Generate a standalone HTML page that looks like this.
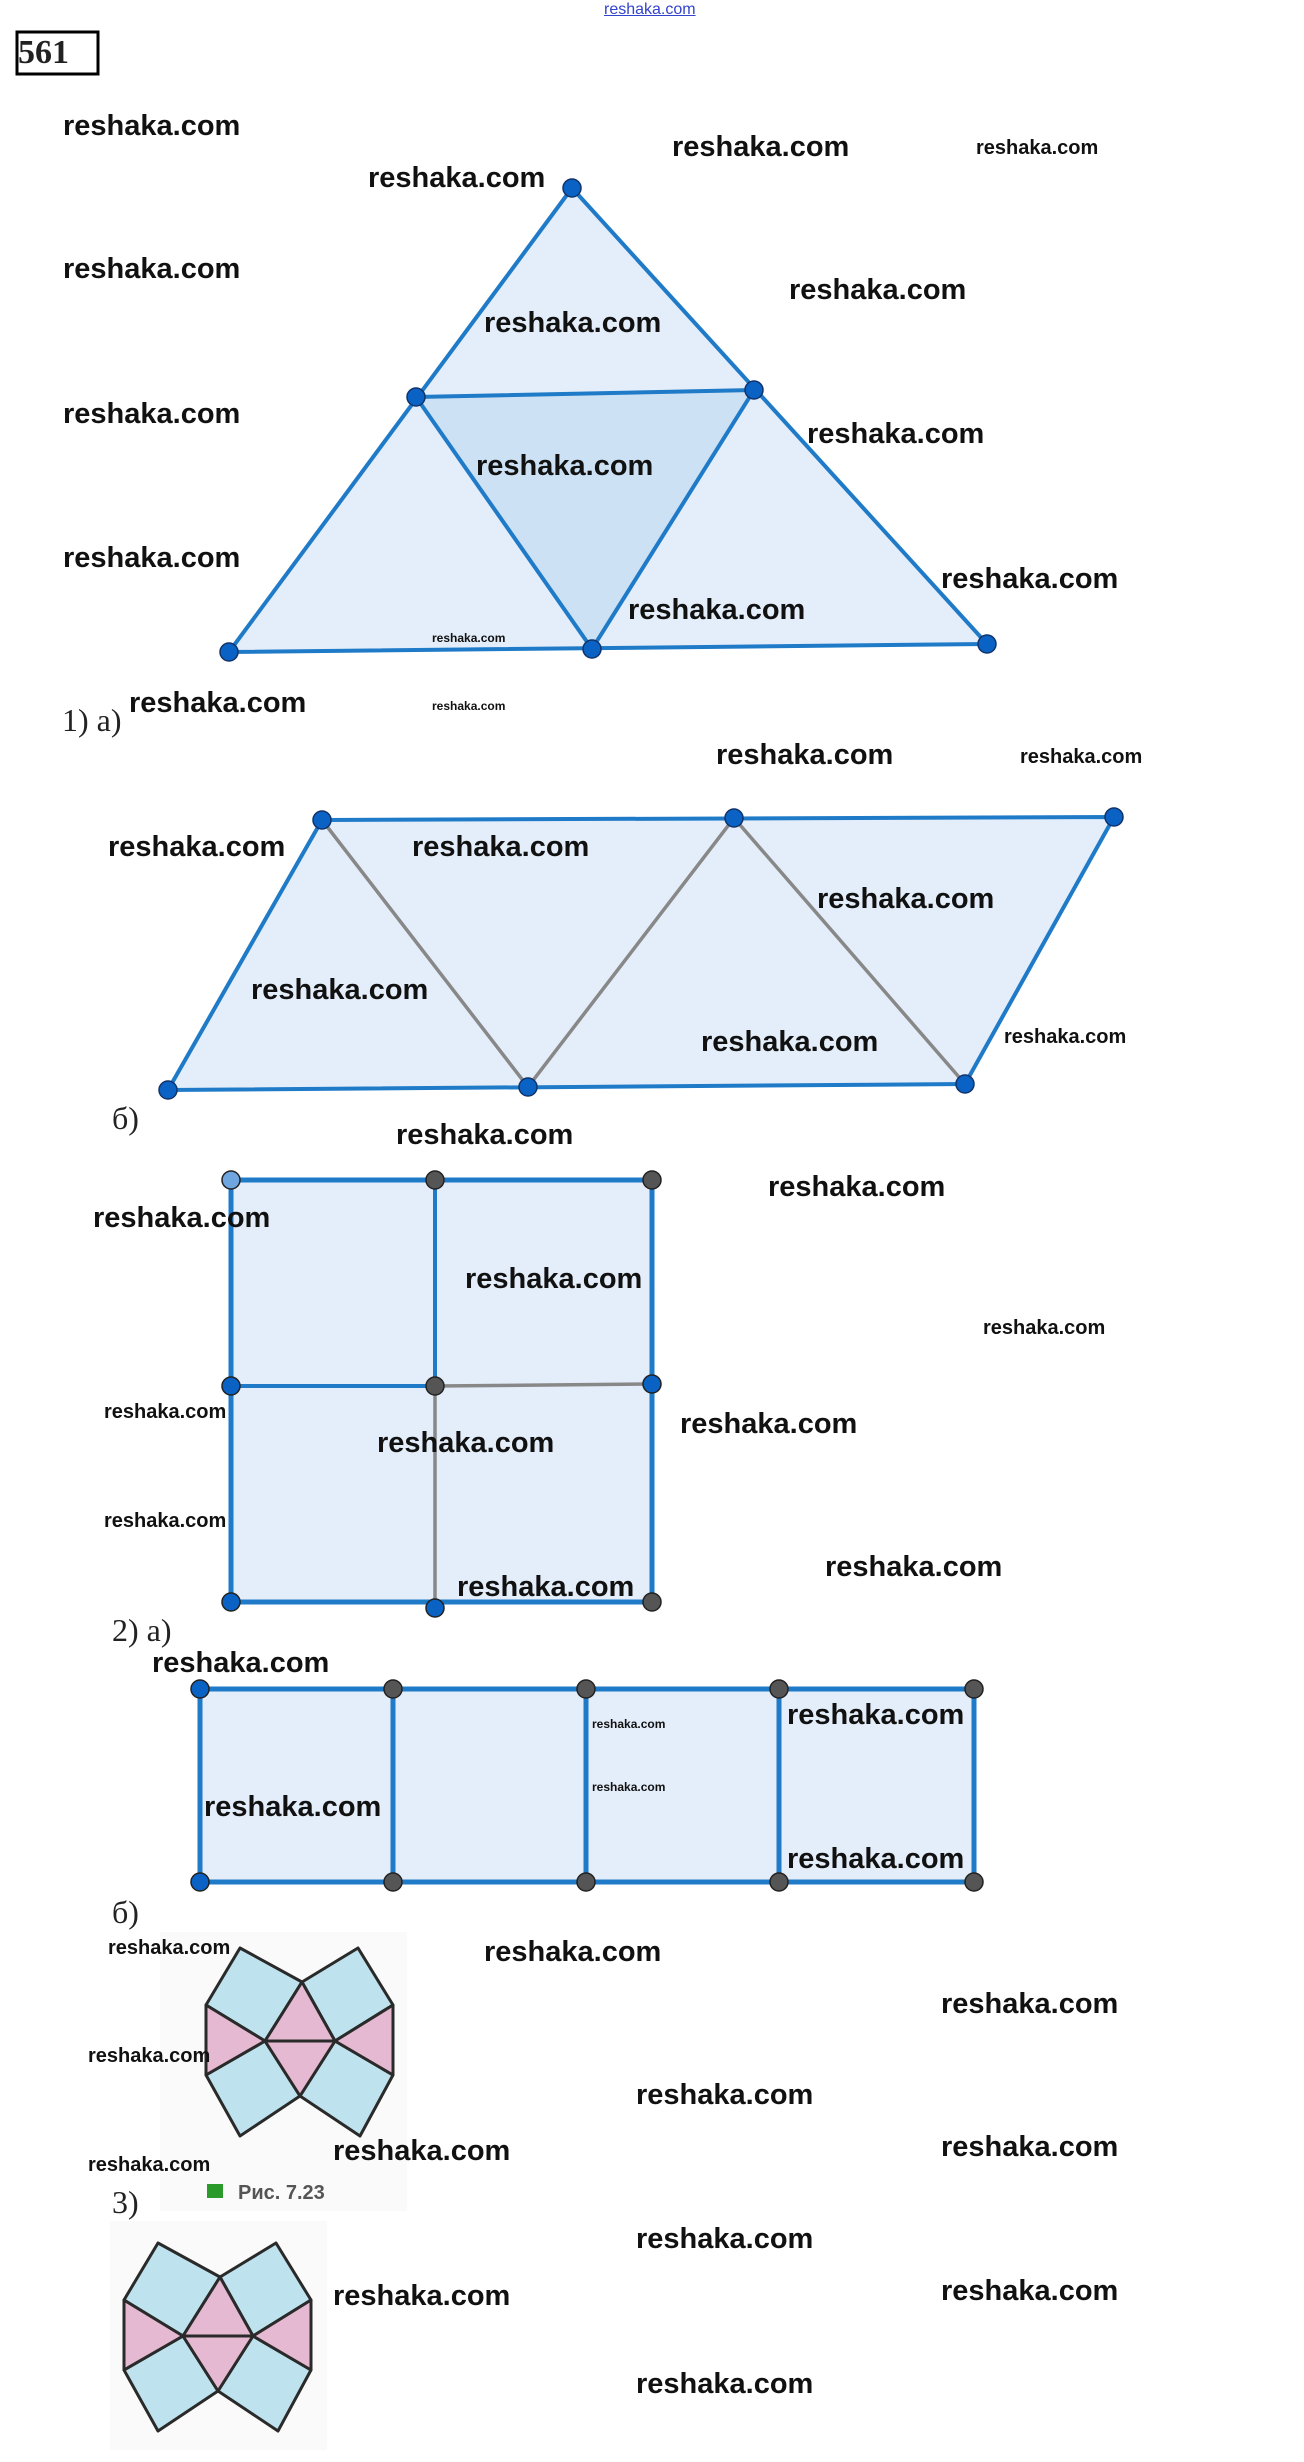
<!DOCTYPE html>
<html><head><meta charset="utf-8"><style>
body{margin:0;background:#fff;width:1304px;height:2462px;position:relative;overflow:hidden}
.w{position:absolute;font-family:"Liberation Sans",sans-serif;font-weight:bold;color:#111;line-height:1;white-space:nowrap}
.L{font-size:29px}.S{font-size:20px}.T{font-size:12px}
.lab{position:absolute;font-family:"Liberation Serif",serif;font-size:32px;color:#222;line-height:1}
svg{position:absolute;left:0;top:0}
</style></head><body>
<svg width="1304" height="2462" viewBox="0 0 1304 2462">
<rect x="17" y="32" width="81" height="42" fill="none" stroke="#000" stroke-width="3"/>
<!-- 1a -->
<g stroke="#1f7ac8" stroke-width="4" stroke-linejoin="round">
<polygon points="572,188 229,652 987,644" fill="#e4eefa"/>
<polygon points="416,397 754,390 592,649" fill="#cde1f4"/>
</g>
<g fill="#0a62c4" stroke="#12336a" stroke-width="1.5">
<circle cx="572" cy="188" r="9"/><circle cx="416" cy="397" r="9"/><circle cx="754" cy="390" r="9"/>
<circle cx="229" cy="652" r="9"/><circle cx="592" cy="649" r="9"/><circle cx="987" cy="644" r="9"/>
</g>
<!-- 1b -->
<polygon points="322,820 1114,817 965,1084 168,1090" fill="#e4eefa" stroke="#1f7ac8" stroke-width="4"/>
<polyline points="322,820 528,1087 734,818 965,1084" fill="none" stroke="#888" stroke-width="3.5"/>
<g fill="#0a62c4" stroke="#12336a" stroke-width="1.5">
<circle cx="322" cy="820" r="9"/><circle cx="734" cy="818" r="9"/><circle cx="1114" cy="817" r="9"/>
<circle cx="168" cy="1090" r="9"/><circle cx="528" cy="1087" r="9"/><circle cx="965" cy="1084" r="9"/>
</g>
<!-- 2a -->
<rect x="231" y="1180" width="421" height="422" fill="#e4eefa" stroke="#1f7ac8" stroke-width="5"/>
<line x1="435" y1="1180" x2="435" y2="1386" stroke="#1f7ac8" stroke-width="4"/>
<line x1="231" y1="1386" x2="435" y2="1386" stroke="#1f7ac8" stroke-width="4"/>
<line x1="435" y1="1386" x2="652" y2="1384" stroke="#888" stroke-width="3.5"/>
<line x1="435" y1="1386" x2="435" y2="1608" stroke="#888" stroke-width="3.5"/>
<g stroke="#222" stroke-width="1.5">
<circle cx="231" cy="1180" r="9" fill="#6fa6df"/><circle cx="435" cy="1180" r="9" fill="#555"/><circle cx="652" cy="1180" r="9" fill="#555"/>
<circle cx="231" cy="1386" r="9" fill="#0a62c4"/><circle cx="435" cy="1386" r="9" fill="#555"/><circle cx="652" cy="1384" r="9" fill="#0a62c4"/>
<circle cx="231" cy="1602" r="9" fill="#0a62c4"/><circle cx="435" cy="1608" r="9" fill="#0a62c4"/><circle cx="652" cy="1602" r="9" fill="#555"/>
</g>
<!-- 2b -->
<rect x="200" y="1689" width="774" height="193" fill="#e4eefa" stroke="#1f7ac8" stroke-width="5"/>
<g stroke="#1f7ac8" stroke-width="5"><line x1="393" y1="1689" x2="393" y2="1882"/><line x1="586" y1="1689" x2="586" y2="1882"/><line x1="779" y1="1689" x2="779" y2="1882"/></g>
<g stroke="#222" stroke-width="1.5" fill="#555">
<circle cx="200" cy="1689" r="9" fill="#0a62c4"/><circle cx="393" cy="1689" r="9"/><circle cx="586" cy="1689" r="9"/><circle cx="779" cy="1689" r="9"/><circle cx="974" cy="1689" r="9"/>
<circle cx="200" cy="1882" r="9" fill="#0a62c4"/><circle cx="393" cy="1882" r="9"/><circle cx="586" cy="1882" r="9"/><circle cx="779" cy="1882" r="9"/><circle cx="974" cy="1882" r="9"/>
</g>
<!-- pattern -->
<defs><g id="pat" stroke="#2a2a2a" stroke-width="3" stroke-linejoin="round">
<polygon points="206,2005 240,1948 302,1982 265,2041" fill="#bfe3ee"/>
<polygon points="302,1982 358,1948 393,2005 335,2041" fill="#bfe3ee"/>
<polygon points="206,2075 265,2041 300,2096 240,2136" fill="#bfe3ee"/>
<polygon points="335,2041 393,2075 360,2136 300,2096" fill="#bfe3ee"/>
<polygon points="206,2005 265,2041 206,2075" fill="#e6b9d2"/>
<polygon points="393,2005 335,2041 393,2075" fill="#e6b9d2"/>
<polygon points="302,1982 265,2041 335,2041" fill="#e6b9d2"/>
<polygon points="265,2041 335,2041 300,2096" fill="#e6b9d2"/>
</g></defs>
<rect x="160" y="1932" width="247" height="279" fill="#fafafa"/>
<use href="#pat"/>
<rect x="207" y="2184" width="16" height="14" fill="#2a9a2a"/>
<text x="238" y="2199" font-family="Liberation Sans,sans-serif" font-weight="bold" font-size="20" fill="#555">Рис. 7.23</text>
<rect x="110" y="2221" width="217" height="229" fill="#fafafa"/>
<use href="#pat" transform="translate(-82,295)"/>
</svg>
<div class="w" style="left:604px;top:2px;font-size:16px;font-weight:normal;color:#3344cc;text-decoration:underline">reshaka.com</div>
<div class="lab" style="left:18px;top:36px;font-weight:bold;font-size:34px">561</div>
<div class="lab" style="left:62px;top:704px">1) а)</div>
<div class="lab" style="left:112px;top:1102px">б)</div>
<div class="lab" style="left:112px;top:1614px">2) а)</div>
<div class="lab" style="left:112px;top:1896px">б)</div>
<div class="lab" style="left:112px;top:2186px">3)</div>

<div class="w L" style="left:63px;top:112px">reshaka.com</div>
<div class="w L" style="left:672px;top:133px">reshaka.com</div>
<div class="w L" style="left:368px;top:164px">reshaka.com</div>
<div class="w L" style="left:63px;top:255px">reshaka.com</div>
<div class="w L" style="left:789px;top:276px">reshaka.com</div>
<div class="w L" style="left:484px;top:309px">reshaka.com</div>
<div class="w L" style="left:63px;top:400px">reshaka.com</div>
<div class="w L" style="left:807px;top:420px">reshaka.com</div>
<div class="w L" style="left:476px;top:452px">reshaka.com</div>
<div class="w L" style="left:63px;top:544px">reshaka.com</div>
<div class="w L" style="left:941px;top:565px">reshaka.com</div>
<div class="w L" style="left:628px;top:596px">reshaka.com</div>
<div class="w L" style="left:129px;top:689px">reshaka.com</div>
<div class="w L" style="left:716px;top:741px">reshaka.com</div>
<div class="w L" style="left:108px;top:833px">reshaka.com</div>
<div class="w L" style="left:412px;top:833px">reshaka.com</div>
<div class="w L" style="left:817px;top:885px">reshaka.com</div>
<div class="w L" style="left:251px;top:976px">reshaka.com</div>
<div class="w L" style="left:701px;top:1028px">reshaka.com</div>
<div class="w L" style="left:396px;top:1121px">reshaka.com</div>
<div class="w L" style="left:93px;top:1204px">reshaka.com</div>
<div class="w L" style="left:768px;top:1173px">reshaka.com</div>
<div class="w L" style="left:465px;top:1265px">reshaka.com</div>
<div class="w L" style="left:680px;top:1410px">reshaka.com</div>
<div class="w L" style="left:377px;top:1429px">reshaka.com</div>
<div class="w L" style="left:825px;top:1553px">reshaka.com</div>
<div class="w L" style="left:457px;top:1573px">reshaka.com</div>
<div class="w L" style="left:152px;top:1649px">reshaka.com</div>
<div class="w L" style="left:787px;top:1701px">reshaka.com</div>
<div class="w L" style="left:204px;top:1793px">reshaka.com</div>
<div class="w L" style="left:787px;top:1845px">reshaka.com</div>
<div class="w L" style="left:484px;top:1938px">reshaka.com</div>
<div class="w L" style="left:941px;top:1990px">reshaka.com</div>
<div class="w L" style="left:636px;top:2081px">reshaka.com</div>
<div class="w L" style="left:333px;top:2137px">reshaka.com</div>
<div class="w L" style="left:941px;top:2133px">reshaka.com</div>
<div class="w L" style="left:636px;top:2225px">reshaka.com</div>
<div class="w L" style="left:333px;top:2282px">reshaka.com</div>
<div class="w L" style="left:941px;top:2277px">reshaka.com</div>
<div class="w L" style="left:636px;top:2370px">reshaka.com</div>

<div class="w S" style="left:976px;top:138px">reshaka.com</div>
<div class="w S" style="left:1020px;top:747px">reshaka.com</div>
<div class="w S" style="left:1004px;top:1027px">reshaka.com</div>
<div class="w S" style="left:983px;top:1318px">reshaka.com</div>
<div class="w S" style="left:104px;top:1402px">reshaka.com</div>
<div class="w S" style="left:104px;top:1511px">reshaka.com</div>
<div class="w S" style="left:108px;top:1938px">reshaka.com</div>
<div class="w S" style="left:88px;top:2046px">reshaka.com</div>
<div class="w S" style="left:88px;top:2155px">reshaka.com</div>

<div class="w T" style="left:432px;top:632px">reshaka.com</div>
<div class="w T" style="left:432px;top:700px">reshaka.com</div>
<div class="w T" style="left:592px;top:1718px">reshaka.com</div>
<div class="w T" style="left:592px;top:1781px">reshaka.com</div>
</body></html>
